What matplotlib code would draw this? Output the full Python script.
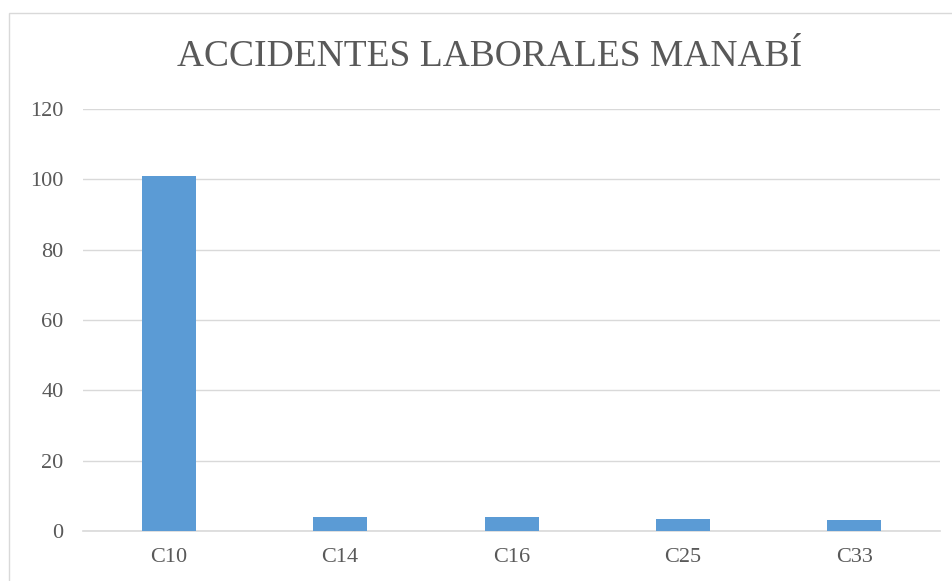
import matplotlib.pyplot as plt
from matplotlib.patches import Rectangle

# datos
categorias = ["C10", "C14", "C16", "C25", "C33"]
accidentes = [101, 4, 4, 3.5, 3.2]
yticks = [0, 20, 40, 60, 80, 100, 120]

plt.rcParams['font.family'] = ['Liberation Serif', 'DejaVu Serif']
gris = '#595959'
linea = '#d9d9d9'

fig = plt.figure(figsize=(9.53, 5.81), dpi=100)
ax = fig.add_axes([0.0871, 0.0861, 0.8993, 0.7263])

ax.bar(range(len(categorias)), accidentes, width=0.315, color='#5b9bd5', zorder=3)
ax.set_xlim(-0.5, len(categorias) - 0.5)
ax.set_ylim(0, 120)
ax.set_yticks(yticks)
ax.set_xticks(range(len(categorias)))
ax.set_xticklabels(categorias)

ax.grid(axis='y', color=linea, linewidth=1.0, zorder=0)
for s in ['top', 'right', 'left']:
    ax.spines[s].set_visible(False)
ax.spines['bottom'].set_color(linea)
ax.spines['bottom'].set_linewidth(1.2)
ax.tick_params(axis='both', length=0, labelsize=16, labelcolor=gris)
ax.tick_params(axis='y', pad=14)
ax.tick_params(axis='x', pad=12)

fig.text(0.514, 0.902, "ACCIDENTES LABORALES MANABÍ", ha='center', va='center',
         fontsize=27, color=gris)

# borde del area del grafico
fig.patches.append(Rectangle((0.0095, -0.1), 1.1, 1.0776, transform=fig.transFigure,
                             fill=False, edgecolor=linea, linewidth=1.0))

plt.savefig("out.png", dpi=100)
